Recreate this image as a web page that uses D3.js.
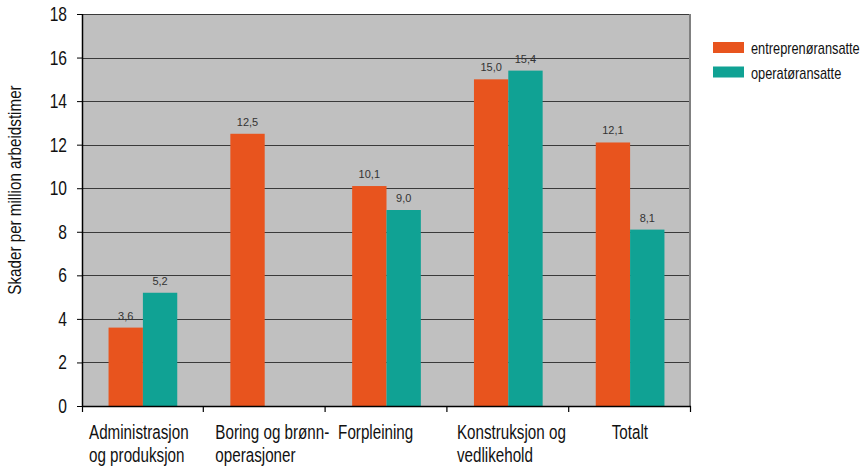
<!DOCTYPE html>
<html>
<head>
<meta charset="utf-8">
<script src="https://cdn.jsdelivr.net/npm/d3@7"></script>
<style>
  html, body { margin: 0; padding: 0; background: #fff; }
  svg { display: block; }
</style>
</head>
<body>
<svg id="chart" width="862" height="468"></svg>
<script>
// Injury rates per million working hours, by work category
const categories = [
  ["Administrasjon", "og produksjon"],
  ["Boring og brønn-", "operasjoner"],
  ["Forpleining"],
  ["Konstruksjon og", "vedlikehold"],
  ["Totalt"]
];
const seriesNames = ["entreprenøransatte", "operatøransatte"];
const entreprenor = [3.6, 12.5, 10.1, 15.0, 12.1];
const operator = [5.2, null, 9.0, 15.4, 8.1];
const yTicks = [0, 2, 4, 6, 8, 10, 12, 14, 16, 18];
const colors = ["#E8541E", "#10A294"];

// narrow look: regular sans face squeezed horizontally
const sansFont = "'Liberation Sans', Arial, sans-serif";
const squeeze = 0.78;
const ink = "#111";

const svg = d3.select("#chart");
const margin = { left: 82, top: 14, right: 862 - 691, bottom: 468 - 406 };
const width = 862 - margin.left - margin.right;
const height = 468 - margin.top - margin.bottom;

const g = svg.append("g").attr("transform", `translate(${margin.left},${margin.top})`);

const x0 = d3.scaleBand().domain(d3.range(categories.length)).range([0, width]);
const x1 = d3.scaleBand().domain([0, 1]).range([x0.bandwidth() * 0.218, x0.bandwidth() * 0.782]);
const y = d3.scaleLinear().domain([0, 18]).range([height, 0]);

// condensed text helper: anchored at (x, y), squeezed around the anchor
function narrowText(parent, x, yPos, size, anchor, sx) {
  return parent.append("text")
    .attr("transform", `translate(${x},${yPos}) scale(${sx || squeeze},1)`)
    .attr("text-anchor", anchor || "start")
    .attr("font-family", sansFont).attr("font-size", size).attr("fill", ink);
}

// plot background
g.append("rect").attr("x", 0).attr("y", 0).attr("width", width).attr("height", height).attr("fill", "#C0C0C0");

// horizontal gridlines
g.append("g").selectAll("line").data(yTicks.filter(d => d > 0)).join("line")
  .attr("x1", 0).attr("x2", width)
  .attr("y1", d => Math.round(y(d)) + 0.5).attr("y2", d => Math.round(y(d)) + 0.5)
  .attr("stroke", "#3a3a3a").attr("stroke-width", 1.2);

// right border
g.append("line").attr("x1", width - 1).attr("x2", width - 1).attr("y1", 0).attr("y2", height)
  .attr("stroke", "#808080").attr("stroke-width", 2);

// bars with value labels
const series = [entreprenor, operator];
series.forEach((vals, si) => {
  const bars = g.append("g");
  vals.forEach((v, ci) => {
    if (v == null) return;
    const bx = x0(ci) + x1(si);
    bars.append("rect")
      .attr("x", bx).attr("y", y(v))
      .attr("width", x1.bandwidth()).attr("height", y(0) - y(v))
      .attr("fill", colors[si]);
    bars.append("text")
      .attr("x", bx + x1.bandwidth() / 2).attr("y", y(v) - 8)
      .attr("text-anchor", "middle")
      .attr("font-family", sansFont)
      .attr("font-size", 11).attr("fill", "#333")
      .text(d3.format(".1f")(v).replace(".", ","));
  });
});

// y axis
const yAxis = d3.axisLeft(y).tickValues(yTicks).tickSize(5).tickFormat("");
const ya = g.append("g").call(yAxis);
ya.select(".domain").attr("stroke", "#000").attr("stroke-width", 1.5).attr("d", `M0.5,0V${height}`);
ya.selectAll(".tick line").attr("stroke", "#000");
yTicks.forEach(t => {
  narrowText(ya, -15, y(t) + 7, 19.5, "end", 0.8).text(t);
});

// x axis
const xa = g.append("g").attr("transform", `translate(0,${height})`);
xa.append("line").attr("x1", 0).attr("x2", width).attr("y1", 0.5).attr("y2", 0.5).attr("stroke", "#000").attr("stroke-width", 1.5);
xa.selectAll(".xt").data(d3.range(categories.length + 1)).join("line")
  .attr("x1", d => d * x0.step() + (d === 0 ? 0.5 : -0.5)).attr("x2", d => d * x0.step() + (d === 0 ? 0.5 : -0.5))
  .attr("y1", 0).attr("y2", 6).attr("stroke", "#000").attr("stroke-width", 1.2);

// category labels, lines left-aligned from an inset in each band
const labelInset = [7, 11.5, 12.5, 9.5, 42.5];
categories.forEach((lines, ci) => {
  const t = narrowText(xa, x0(ci) + labelInset[ci], 0, 19.5);
  lines.forEach((ln, li) => {
    t.append("tspan").attr("x", 0).attr("y", 33.5 + li * 22.2).text(ln);
  });
});

// y axis title
svg.append("text")
  .attr("transform", `translate(21,190) rotate(-90) scale(0.8,1)`)
  .attr("text-anchor", "middle")
  .attr("font-family", sansFont).attr("font-size", 19).attr("fill", ink)
  .text("Skader per million arbeidstimer");

// legend
const legend = svg.append("g").attr("transform", "translate(713,42)");
seriesNames.forEach((name, i) => {
  const row = legend.append("g").attr("transform", `translate(0,${i * 24.5})`);
  row.append("rect").attr("width", 31).attr("height", 11).attr("fill", colors[i]);
  narrowText(row, 38, 12, 16, "start", 0.8).text(name);
});
</script>
</body>
</html>
